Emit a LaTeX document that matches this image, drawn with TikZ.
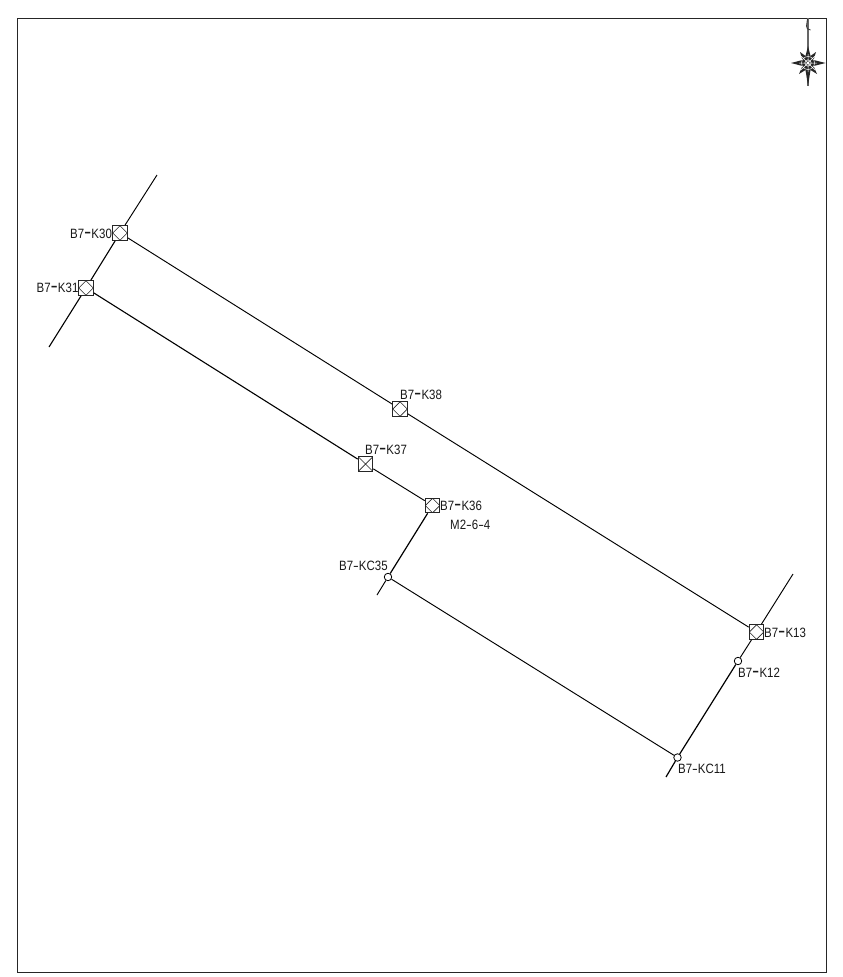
\documentclass[tikz,border=0pt]{standalone}
\usepackage{fontspec}
\setmainfont{Liberation Sans}
\newfontfamily\lbf[FakeStretch=0.85]{Liberation Sans}
\usetikzlibrary{calc}
\newcommand{\dsh}{\scalebox{1.9}[1.5]{-}}
\newcommand{\thn}{\scalebox{1.5}[1]{-}}
\tikzset{
  x=1pt,y=-1pt,
  line/.style={draw=black,line width=0.95pt},
  lab/.style={font=\lbf\fontsize{13.5}{14}\selectfont,inner sep=0pt,anchor=base west,text=black!90},
  mark box/.style={draw=black!85,line width=1.1pt,fill=white,minimum size=14.5pt,inner sep=0pt,shape=rectangle},
  dia box/.style={mark box,path picture={
     \draw[line width=0.7pt] (path picture bounding box.north) -- (path picture bounding box.east) -- (path picture bounding box.south) -- (path picture bounding box.west) -- cycle;
     \fill (path picture bounding box.center) circle (0.5pt);}},
  cross box/.style={mark box,path picture={
     \draw[line width=0.7pt] (path picture bounding box.north west) -- (path picture bounding box.south east)
       (path picture bounding box.north east) -- (path picture bounding box.south west);}},
  dot mark/.style={draw=black,line width=0.8pt,fill=white,circle,minimum size=7.5pt,inner sep=0pt,path picture={
     \fill (path picture bounding box.center) circle (0.7pt);}},
}
\begin{document}
\begin{tikzpicture}
\useasboundingbox (0,0) rectangle (843,977);
\fill[white] (0,0) rectangle (843,977);
\draw[line width=0.9pt,draw=black!85] (17,18.5) rectangle (826.5,972.5);
% free ends
\coordinate (e30) at (157,175);
\coordinate (e31) at (49,347);
\coordinate (e35) at (377,595);
\coordinate (e13) at (793,574);
\coordinate (e11) at (666,777);
% nodes
\node[dia box] (K30) at (120,233) {};
\node[dia box] (K31) at (86,288) {};
\node[dia box] (K38) at (400,409) {};
\node[cross box] (K37) at (365.5,464) {};
\node[dia box] (K36) at (432.5,505.5) {};
\node[dot mark] (KC35) at (388,577) {};
\node[dia box] (K13) at (756.5,632) {};
\node[dot mark] (K12) at (738,661) {};
\node[dot mark] (KC11) at (677.5,757.5) {};
% connectors
\draw[line] (e30) -- (K30);
\draw[line,line width=1.1pt] (K30) -- (K31);
\draw[line,line width=1.1pt] (K31) -- (e31);
\draw[line] (K30) -- (K38);
\draw[line] (K38) -- (K13);
\draw[line,line width=1.1pt] (K31) -- (K37);
\draw[line] (K37) -- (K36);
\draw[line,line width=1.2pt] (K36) -- (KC35);
\draw[line] (KC35) -- (e35);
\draw[line] (KC35) -- (KC11);
\draw[line] (K13) -- (e13);
\draw[line] (K13) -- (K12);
\draw[line,line width=1.2pt] (K12) -- (KC11);
\draw[line,line width=1.2pt] (KC11) -- (e11);
% labels
\node[lab] (t30) at (70,238) {B7\dsh K30};
\node[lab] (t31) at (36.5,292.5) {B7\dsh K31};
\node[lab] (t38) at (400,399) {B7\dsh K38};
\node[lab] (t37) at (365,454.5) {B7\dsh K37};
\node[lab] (t36) at (440,510) {B7\dsh K36};
\node[lab] (tm) at (450,529.5) {M2\thn 6\thn 4};
\node[lab] (t35) at (339,570) {B7\thn KC35};
\node[lab] (t13) at (764,637) {B7\dsh K13};
\node[lab] (t12) at (738,677.5) {B7\dsh K12};
\node[lab] (t11) at (678,773.5) {B7\thn KC11};
% north mark
\draw[line width=1.4pt,draw=black!60] (808,18) -- (808,86);
\draw[line width=0.8pt,draw=black!80] (807.5,19) -- (806.5,26) .. controls (806,28) and (808,30) .. (810.5,30);
\fill[black!85] (808,46) -- (810.5,56) -- (816,52) -- (813.5,60) -- (825.5,63) -- (813.5,66) -- (817,74) -- (810.5,70) -- (808,86) -- (805.5,70) -- (799,74) -- (802.5,66) -- (791,63) -- (802.5,60) -- (800,52) -- (805.5,56) -- cycle;
\draw[white,line width=0.5pt] (808,63) circle (6.5pt) (808,63) circle (3.2pt)
  (801,56) -- (815,70) (815,56) -- (801,70) (808,54) -- (808,72) (799,63) -- (817,63);
\end{tikzpicture}
\end{document}
